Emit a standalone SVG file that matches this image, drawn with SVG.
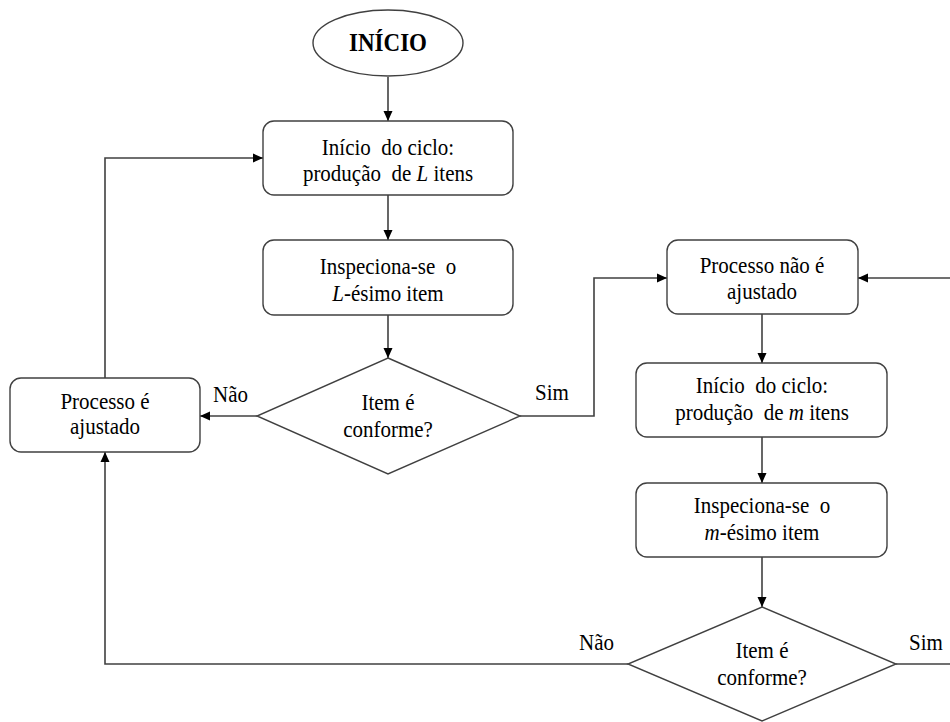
<svg xmlns="http://www.w3.org/2000/svg" width="950" height="722" viewBox="0 0 950 722">
  <style>
    .shape { fill: #ffffff; stroke: #404040; stroke-width: 1.4; }
    .wire { fill: none; stroke: #404040; stroke-width: 1.6; }
    .lbl { font-size: 21px; fill: #000000; text-anchor: middle; }
    .edge-lbl { font-size: 21px; fill: #000000; }
    .title { font-size: 23px; font-weight: bold; fill: #000000; text-anchor: middle; }
    .var { font-style: italic; }
  </style>
  <defs>
    <marker id="arrow" viewBox="0 0 10 10" refX="10" refY="5" markerWidth="10" markerHeight="10" markerUnits="userSpaceOnUse" orient="auto">
      <path d="M0,0.5 L10,5 L0,9.5 Z" fill="#000000"/>
    </marker>
  </defs>

  <rect width="950" height="722" fill="#ffffff"/>

  <g font-family="'Liberation Serif', 'Times New Roman', serif">
  <!-- connectors -->
  <g id="connectors">
    <line class="wire" x1="388" y1="77" x2="388" y2="121" marker-end="url(#arrow)"/>
    <line class="wire" x1="388" y1="195" x2="388" y2="240" marker-end="url(#arrow)"/>
    <line class="wire" x1="388" y1="315" x2="388" y2="358" marker-end="url(#arrow)"/>
    <!-- first decision: no -->
    <line class="wire" x1="257" y1="416" x2="200" y2="416" marker-end="url(#arrow)"/>
    <!-- adjustment loops back to the start of the cycle -->
    <polyline class="wire" points="105,378 105,158 263,158" marker-end="url(#arrow)"/>
    <!-- first decision: yes -->
    <polyline class="wire" points="520,416 594,416 594,278 667,278" marker-end="url(#arrow)"/>
    <!-- return from second decision: yes -->
    <line class="wire" x1="950" y1="278" x2="858" y2="278" marker-end="url(#arrow)"/>
    <line class="wire" x1="762" y1="314" x2="762" y2="363" marker-end="url(#arrow)"/>
    <line class="wire" x1="762" y1="437" x2="762" y2="483" marker-end="url(#arrow)"/>
    <line class="wire" x1="762" y1="557" x2="762" y2="607" marker-end="url(#arrow)"/>
    <!-- second decision: no -->
    <polyline class="wire" points="628,664 105,664 105,452" marker-end="url(#arrow)"/>
    <!-- second decision: yes -->
    <line class="wire" x1="896" y1="664" x2="950" y2="664"/>

    <text class="edge-lbl" transform="translate(213,402) scale(1,1.1)">Não</text>
    <text class="edge-lbl" transform="translate(535,400) scale(1,1.1)">Sim</text>
    <text class="edge-lbl" transform="translate(579,650) scale(1,1.1)">Não</text>
    <text class="edge-lbl" transform="translate(909,650) scale(1,1.1)">Sim</text>
  </g>

  <g id="inicio">
    <ellipse class="shape" cx="388" cy="43" rx="75" ry="33"/>
    <text class="title" transform="translate(388,51) scale(1,1.1)">INÍCIO</text>
  </g>

  <g id="ciclo-L">
    <rect class="shape" x="263" y="121" width="250" height="74" rx="11"/>
    <text class="lbl" transform="translate(388,155) scale(1,1.1)">Início&#160; do ciclo:</text>
    <text class="lbl" transform="translate(388,181) scale(1,1.1)">produção&#160; de <tspan class="var">L</tspan> itens</text>
  </g>

  <g id="inspeciona-L">
    <rect class="shape" x="263" y="240" width="250" height="75" rx="11"/>
    <text class="lbl" transform="translate(388,274) scale(1,1.1)">Inspeciona-se&#160; o</text>
    <text class="lbl" transform="translate(388,301) scale(1,1.1)"><tspan class="var">L</tspan>-ésimo item</text>
  </g>

  <g id="decisao-L">
    <polygon class="shape" points="388,358 520,416 388,474 257,416"/>
    <text class="lbl" transform="translate(388,410) scale(1,1.1)">Item é</text>
    <text class="lbl" transform="translate(388,437) scale(1,1.1)">conforme?</text>
  </g>

  <g id="ajustado">
    <rect class="shape" x="10" y="378" width="190" height="74" rx="11"/>
    <text class="lbl" transform="translate(105,409) scale(1,1.1)">Processo é</text>
    <text class="lbl" transform="translate(105,434) scale(1,1.1)">ajustado</text>
  </g>

  <g id="nao-ajustado">
    <rect class="shape" x="667" y="240" width="191" height="74" rx="11"/>
    <text class="lbl" transform="translate(762,273) scale(1,1.1)">Processo não é</text>
    <text class="lbl" transform="translate(762,299) scale(1,1.1)">ajustado</text>
  </g>

  <g id="ciclo-m">
    <rect class="shape" x="636" y="363" width="251" height="74" rx="11"/>
    <text class="lbl" transform="translate(762,393) scale(1,1.1)">Início&#160; do ciclo:</text>
    <text class="lbl" transform="translate(762,420) scale(1,1.1)">produção&#160; de <tspan class="var">m</tspan> itens</text>
  </g>

  <g id="inspeciona-m">
    <rect class="shape" x="636" y="483" width="251" height="74" rx="11"/>
    <text class="lbl" transform="translate(762,513) scale(1,1.1)">Inspeciona-se&#160; o</text>
    <text class="lbl" transform="translate(762,540) scale(1,1.1)"><tspan class="var">m</tspan>-ésimo item</text>
  </g>

  <g id="decisao-m">
    <polygon class="shape" points="762,607 896,664 762,721 628,664"/>
    <text class="lbl" transform="translate(762,658) scale(1,1.1)">Item é</text>
    <text class="lbl" transform="translate(762,685) scale(1,1.1)">conforme?</text>
  </g>
  </g>
</svg>
